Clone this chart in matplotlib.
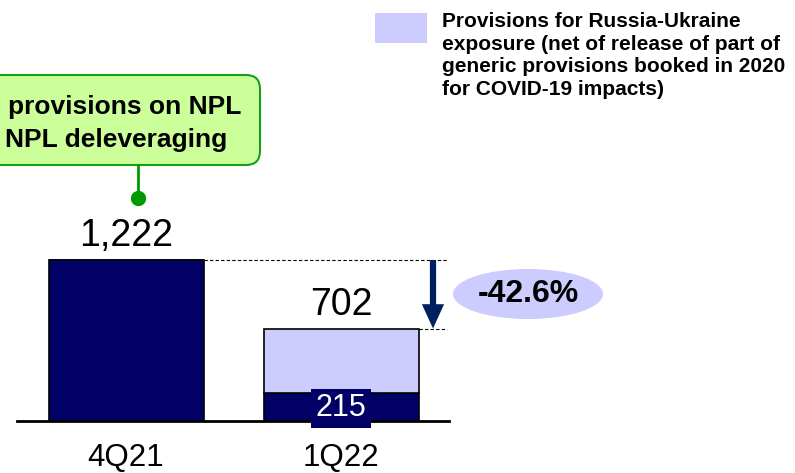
import matplotlib
matplotlib.use('Agg')
import matplotlib.pyplot as plt
from matplotlib.patches import FancyBboxPatch, Ellipse, Rectangle

plt.rcParams['font.family'] = ['Liberation Sans', 'DejaVu Sans']

quarters = ['4Q21', '1Q22']
npl_provisions = [1222, 215]
russia_ukraine = [0, 487]
totals = [1222, 702]
change_label = '-42.6%'
callout_lines = ['provisions on NPL', 'NPL deleveraging']
legend_lines = ['Provisions for Russia-Ukraine',
                'exposure (net of release of part of',
                'generic provisions booked in 2020',
                'for COVID-19 impacts)']

navy = '#000066'
lilac = '#ccccff'

W, H = 795, 473
fig = plt.figure(figsize=(W / 100, H / 100), dpi=100)
ax = fig.add_axes([0, 0, 1, 1])
# y in value units, x in pixel-like units across the figure
k = 161 / 1222.0
ax.set_xlim(0, W)
ax.set_ylim(-(H - 421) / k, 421 / k)
ax.axis('off')

def py(p):
    # convert a pixel row (from top) to value units
    return (421 - p) / k

xpos = [126, 341]
bw = 155

ax.bar(xpos, npl_provisions, width=bw, color=navy, edgecolor='black', linewidth=1.2, zorder=2)
ax.bar(xpos, russia_ukraine, bottom=npl_provisions, width=bw, color=lilac,
       edgecolor='black', linewidth=1.2, zorder=2)
ax.plot([17, 449], [0, 0], color='black', lw=2, zorder=3)

# total labels
for x, t in zip(xpos, totals):
    ax.text(x, t + 45, f'{t:,}', ha='center', va='bottom', fontsize=27, zorder=4)

# value inside the stacked bar
ax.text(xpos[1], npl_provisions[1] / 2 - 10, f'{npl_provisions[1]}', ha='center', va='center',
        fontsize=22, color='white', zorder=5,
        bbox=dict(boxstyle='square,pad=0.15', fc=navy, ec='none'))

# category labels
for x, q in zip(xpos, quarters):
    ax.text(x, py(458), q, ha='center', va='center', fontsize=22.5)

# dashed guides and arrow showing the drop
ax.plot([xpos[0] + bw / 2, 447], [totals[0], totals[0]], ls=(0, (3, 2)), color='black', lw=0.8)
ax.plot([xpos[1] + bw / 2, 447], [totals[1], totals[1]], ls=(0, (3, 2)), color='black', lw=0.8)
ax.annotate('', xy=(433, totals[1]), xytext=(433, totals[0]),
            arrowprops=dict(arrowstyle='simple,head_length=1.75,head_width=1.6,tail_width=0.45',
                            mutation_scale=10, fc='#002060', ec='none', lw=0,
                            shrinkA=0, shrinkB=0))

ax.add_patch(Ellipse((528, py(294)), 150, 50 / k, fc=lilac, ec='none'))
ax.text(528, py(294), change_label, ha='center', va='center', fontsize=23, fontweight='bold')

# callout box
green_edge = '#1a9e1a'
ax.add_patch(FancyBboxPatch((-20, py(165)), 280, 90 / k,
                            boxstyle='round,pad=0,rounding_size=14',
                            mutation_aspect=1 / k, fc='#ccff99', ec=green_edge, lw=1.5))
ax.text(8, py(107), callout_lines[0], ha='left', va='center', fontsize=19, fontweight='bold')
ax.text(5, py(140), callout_lines[1], ha='left', va='center', fontsize=19, fontweight='bold')
ax.plot([138, 138], [py(165), py(198)], color='#009900', lw=2)
ax.plot(138, py(198), 'o', color='#009900', ms=10)

# legend
ax.add_patch(Rectangle((375, py(43)), 52, 30 / k, fc=lilac, ec='none'))
for i, line in enumerate(legend_lines):
    ax.text(442, py(27 + 22.5 * i), line, ha='left', va='baseline', fontsize=15,
            fontweight='bold')

fig.savefig('out.png', dpi=100)
